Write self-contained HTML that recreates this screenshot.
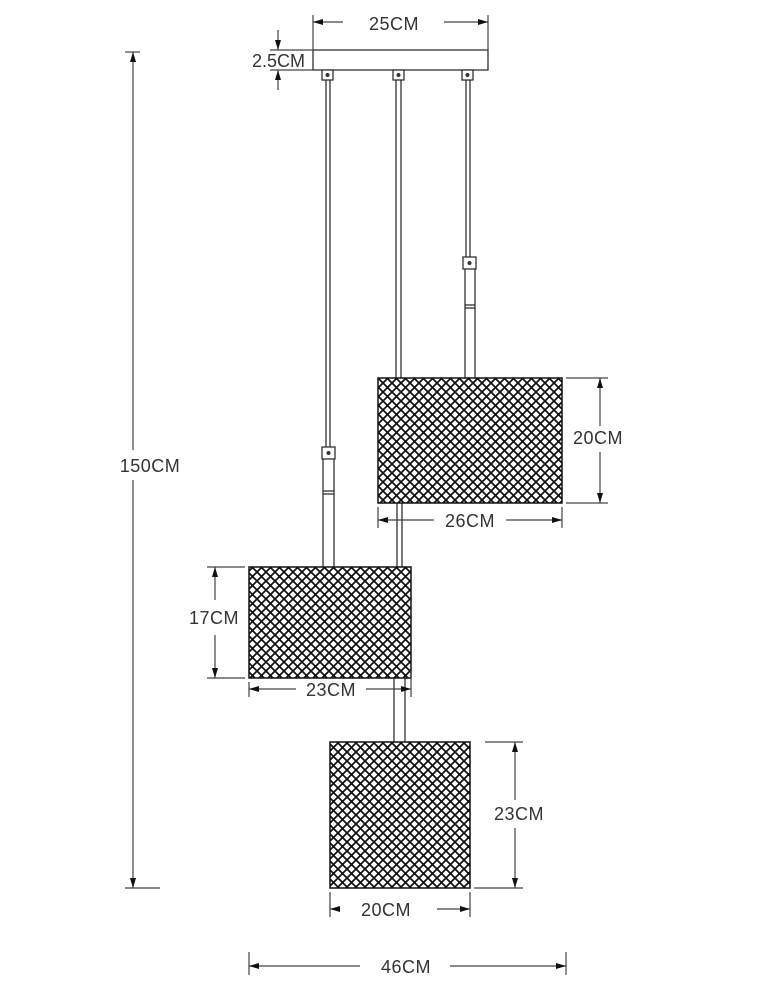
<!DOCTYPE html>
<html><head><meta charset="utf-8"><style>
html,body{margin:0;padding:0;background:#fff;}
svg{display:block;}
text{font-family:"Liberation Sans",sans-serif;font-size:18px;fill:#333;letter-spacing:0.5px;}
</style></head><body>
<svg width="761" height="1000" viewBox="0 0 761 1000" xmlns="http://www.w3.org/2000/svg">
<defs>
<pattern id="mesh" width="9" height="9" patternUnits="userSpaceOnUse" patternTransform="translate(0.5 0.5)">
<rect width="9" height="9" fill="#fff"/>
<path d="M-1,-1 L10,10 M-1,8 L1,10 M8,-1 L10,1" stroke="#111" stroke-width="1.7"/>
<path d="M10,-1 L-1,10 M1,-1 L-1,1 M10,8 L8,10" stroke="#111" stroke-width="1.7"/>
</pattern>
<marker id="a" viewBox="0 0 10 6" refX="10" refY="3" markerWidth="10" markerHeight="6" markerUnits="userSpaceOnUse" orient="auto-start-reverse">
<path d="M0,0 L10,3 L0,6z" fill="#111"/>
</marker>
</defs>
<g stroke="#222" stroke-width="1.2" fill="none">
<rect x="313" y="50" width="175" height="20" fill="#fff"/>
<rect x="322" y="70" width="11" height="10" fill="#fff"/>
<rect x="393" y="70" width="11" height="10" fill="#fff"/>
<rect x="462" y="70" width="11" height="10" fill="#fff"/>
<line x1="326" y1="80" x2="326" y2="447"/><line x1="330" y1="80" x2="330" y2="447"/>
<rect x="322" y="447" width="13" height="12" fill="#fff"/>
<line x1="323" y1="459" x2="323" y2="567"/><line x1="334" y1="459" x2="334" y2="567"/>
<line x1="323" y1="491" x2="334" y2="491"/><line x1="323" y1="494" x2="334" y2="494"/>
<line x1="396" y1="80" x2="396" y2="378"/><line x1="401" y1="80" x2="401" y2="378"/>
<line x1="397" y1="503" x2="397" y2="567"/><line x1="402" y1="503" x2="402" y2="567"/>
<line x1="394" y1="678" x2="394" y2="742"/><line x1="405" y1="678" x2="405" y2="742"/>
<line x1="466" y1="80" x2="466" y2="257"/><line x1="470" y1="80" x2="470" y2="257"/>
<rect x="463" y="257" width="13" height="12" fill="#fff"/>
<line x1="465" y1="269" x2="465" y2="378"/><line x1="475" y1="269" x2="475" y2="378"/>
<line x1="465" y1="305" x2="475" y2="305"/><line x1="465" y1="308" x2="475" y2="308"/>
</g>
<g fill="#333">
<circle cx="327.5" cy="75" r="2"/><circle cx="398.5" cy="75" r="2"/><circle cx="467.5" cy="75" r="2"/>
<circle cx="328.5" cy="453" r="2"/><circle cx="469.5" cy="263" r="2"/>
</g>
<rect x="378" y="378" width="184" height="125" fill="url(#mesh)" stroke="#111" stroke-width="1.5"/>
<rect x="249" y="567" width="162" height="111" fill="url(#mesh)" stroke="#111" stroke-width="1.5"/>
<rect x="330" y="742" width="140" height="146" fill="url(#mesh)" stroke="#111" stroke-width="1.5"/>
<g stroke="#444" stroke-width="1.2" fill="none">
<line x1="313" y1="15" x2="313" y2="50"/><line x1="488" y1="15" x2="488" y2="50"/>
<line x1="343" y1="22" x2="313" y2="22" marker-end="url(#a)"/>
<line x1="444" y1="22" x2="488" y2="22" marker-end="url(#a)"/>
<line x1="270" y1="50" x2="313" y2="50"/><line x1="270" y1="70" x2="313" y2="70"/>
<line x1="278" y1="30" x2="278" y2="50" marker-end="url(#a)"/>
<line x1="278" y1="90" x2="278" y2="70" marker-end="url(#a)"/>
<line x1="125" y1="52" x2="140" y2="52"/><line x1="125" y1="888" x2="160" y2="888"/>
<line x1="133" y1="450" x2="133" y2="52" marker-end="url(#a)"/>
<line x1="133" y1="480" x2="133" y2="888" marker-end="url(#a)"/>
<line x1="566" y1="378" x2="608" y2="378"/><line x1="566" y1="503" x2="608" y2="503"/>
<line x1="600" y1="426" x2="600" y2="378" marker-end="url(#a)"/>
<line x1="600" y1="452" x2="600" y2="503" marker-end="url(#a)"/>
<line x1="378" y1="507" x2="378" y2="528"/><line x1="562" y1="507" x2="562" y2="528"/>
<line x1="434" y1="520" x2="378" y2="520" marker-end="url(#a)"/>
<line x1="506" y1="520" x2="562" y2="520" marker-end="url(#a)"/>
<line x1="207" y1="567" x2="245" y2="567"/><line x1="207" y1="678" x2="245" y2="678"/>
<line x1="215" y1="600" x2="215" y2="567" marker-end="url(#a)"/>
<line x1="215" y1="635" x2="215" y2="678" marker-end="url(#a)"/>
<line x1="249" y1="682" x2="249" y2="697"/><line x1="411" y1="670" x2="411" y2="697"/>
<line x1="296" y1="689" x2="249" y2="689" marker-end="url(#a)"/>
<line x1="366" y1="689" x2="411" y2="689" marker-end="url(#a)"/>
<line x1="485" y1="742" x2="523" y2="742"/><line x1="474" y1="888" x2="523" y2="888"/>
<line x1="515" y1="800" x2="515" y2="742" marker-end="url(#a)"/>
<line x1="515" y1="828" x2="515" y2="888" marker-end="url(#a)"/>
<line x1="330" y1="892" x2="330" y2="917"/><line x1="470" y1="892" x2="470" y2="917"/>
<line x1="336" y1="909" x2="330" y2="909" marker-end="url(#a)"/>
<line x1="437" y1="909" x2="470" y2="909" marker-end="url(#a)"/>
<line x1="249" y1="952" x2="249" y2="975"/><line x1="566" y1="952" x2="566" y2="975"/>
<line x1="360" y1="966" x2="249" y2="966" marker-end="url(#a)"/>
<line x1="450" y1="966" x2="566" y2="966" marker-end="url(#a)"/>
</g>
<g>
<text x="394" y="30" text-anchor="middle" font-size="22">25CM</text>
<text x="252" y="67" font-size="14" style="letter-spacing:0">2.5CM</text>
<text x="150" y="472" text-anchor="middle">150CM</text>
<text x="573" y="444" font-size="15">20CM</text>
<text x="470" y="527" text-anchor="middle">26CM</text>
<text x="214" y="624" text-anchor="middle">17CM</text>
<text x="331" y="696" text-anchor="middle">23CM</text>
<text x="519" y="820" text-anchor="middle">23CM</text>
<text x="386" y="916" text-anchor="middle">20CM</text>
<text x="406" y="973" text-anchor="middle">46CM</text>
</g>
</svg>
</body></html>
